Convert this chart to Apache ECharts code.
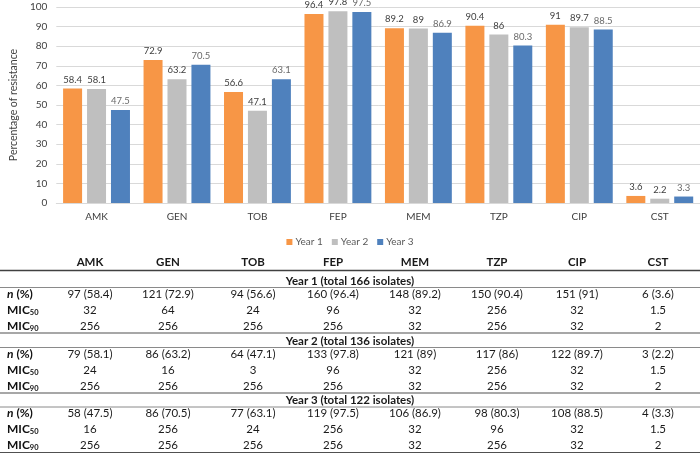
<!DOCTYPE html>
<html>
<head>
<meta charset="utf-8">
<script src="https://cdn.jsdelivr.net/npm/echarts@6/dist/echarts.min.js"></script>
<style>html,body{margin:0;padding:0;background:#fff}#c{width:700px;height:454px}</style>
</head>
<body>
<div id="c"></div>
<script>
// ---- data ----
var categories = ['AMK','GEN','TOB','FEP','MEM','TZP','CIP','CST'];
var seriesNames = ['Year 1','Year 2','Year 3'];
var year1 = [58.4, 72.9, 56.6, 96.4, 89.2, 90.4, 91, 3.6];
var year2 = [58.1, 63.2, 47.1, 97.8, 89, 86, 89.7, 2.2];
var year3 = [47.5, 70.5, 63.1, 97.5, 86.9, 80.3, 88.5, 3.3];
var yTicks = [0,10,20,30,40,50,60,70,80,90,100];

var yearTitles = ['Year 1 (total 166 isolates)','Year 2 (total 136 isolates)','Year 3 (total 122 isolates)'];
var nPct1 = ['97 (58.4)','121 (72.9)','94 (56.6)','160 (96.4)','148 (89.2)','150 (90.4)','151 (91)','6 (3.6)'];
var mic50_1 = ['32','64','24','96','32','256','32','1.5'];
var mic90_1 = ['256','256','256','256','32','256','32','2'];
var nPct2 = ['79 (58.1)','86 (63.2)','64 (47.1)','133 (97.8)','121 (89)','117 (86)','122 (89.7)','3 (2.2)'];
var mic50_2 = ['24','16','3','96','32','256','32','1.5'];
var mic90_2 = ['256','256','256','256','32','256','32','2'];
var nPct3 = ['58 (47.5)','86 (70.5)','77 (63.1)','119 (97.5)','106 (86.9)','98 (80.3)','108 (88.5)','4 (3.3)'];
var mic50_3 = ['16','256','24','256','32','96','32','1.5'];
var mic90_3 = ['256','256','256','256','32','256','32','2'];

// ---- layout / style ----
var FONT = 'Lato, "Noto Sans", sans-serif';
var colors = ['#F79646','#BFBFBF','#4F81BD'];
var labelColors = ['#404040','#404040','#6A6A6A'];
var colX = [90,168,253,333,415,497,577,658];
var TFS = 11.5;

var graphics = [];
function txt(x, y, s, align, bold, rich) {
  var st = {text: s, x: x, y: y, textAlign: align || 'center', textVerticalAlign: 'middle',
    fontFamily: FONT, fontSize: TFS, fontWeight: bold ? 'bold' : 'normal', fill: '#1a1a1a'};
  if (rich) st.rich = rich;
  graphics.push({type: 'text', style: st, z: 10});
}
function hline(y, color, w) {
  graphics.push({type: 'line', shape: {x1: 0, y1: y, x2: 700, y2: y}, style: {stroke: color, lineWidth: w}, z: 10});
}
var richLbl = {
  b: {fontFamily: FONT, fontSize: 12, fontWeight: 'bold', fill: '#111'},
  i: {fontFamily: FONT, fontSize: 12, fontWeight: 'bold', fontStyle: 'italic', fill: '#111'},
  s: {fontFamily: FONT, fontSize: 7.5, fontWeight: 'bold', fill: '#111', verticalAlign: 'bottom', padding: [5,0,0,0]}
};
// header
categories.forEach(function(c, i){ txt(colX[i], 262.5, c, 'center', true); });
hline(270.5, '#404040', 1.3);
var blocks = [[nPct1, mic50_1, mic90_1],[nPct2, mic50_2, mic90_2],[nPct3, mic50_3, mic90_3]];
var blockTop = [281, 341, 400.5];
blocks.forEach(function(b, k){
  var y0 = blockTop[k];
  txt(350, y0, yearTitles[k], 'center', true);
  hline(y0 + 6.5, '#8a8a8a', 1);
  var rowsY = [y0 + 13, y0 + 29, y0 + 45];
  txt(7, rowsY[0], '{i|n}{b| (%)}', 'left', true, richLbl);
  txt(7, rowsY[1], '{b|MIC}{s|50}', 'left', true, richLbl);
  txt(7, rowsY[2], '{b|MIC}{s|90}', 'left', true, richLbl);
  b.forEach(function(row, r){
    row.forEach(function(v, i){ txt(colX[i], rowsY[r], v, 'center', false); });
  });
  hline(y0 + 52, '#505050', 1.2);
});

var dataSets = [year1, year2, year3];
var chart = echarts.init(document.getElementById('c'), null, {renderer: 'canvas'});
chart.setOption({
  animation: false,
  textStyle: {fontFamily: FONT},
  grid: {left: 50, right: 0, top: 7, bottom: 251, containLabel: false},
  legend: {
    data: seriesNames, top: 232, left: 'center', icon: 'rect', itemWidth: 6, itemHeight: 6, itemGap: 9,
    textStyle: {fontSize: 10, color: '#595959', fontFamily: FONT, padding: [0,0,0,-2]}
  },
  xAxis: {
    type: 'category', data: categories,
    axisLine: {lineStyle: {color: '#D9D9D9'}}, axisTick: {show: false},
    axisLabel: {fontSize: 10, color: '#404040', margin: 9, fontFamily: FONT}
  },
  yAxis: {
    type: 'value', min: 0, max: 100, interval: 10,
    name: 'Percentage of resistance', nameLocation: 'middle', nameGap: 31,
    nameTextStyle: {fontSize: 10.5, color: '#404040', fontFamily: FONT},
    axisLine: {show: false}, axisTick: {show: false},
    axisLabel: {fontSize: 10, color: '#404040', margin: 9, fontFamily: FONT,
      formatter: function(v){ return yTicks.indexOf(v) >= 0 ? String(v) : ''; }},
    splitLine: {lineStyle: {color: '#D9D9D9'}}
  },
  series: dataSets.map(function(d, k){
    return {
      name: seriesNames[k], type: 'bar', data: d, barWidth: 19, barGap: '26%',
      itemStyle: {color: colors[k]},
      label: {show: true, position: 'top', distance: 4, fontSize: 9.5, color: labelColors[k], fontFamily: FONT}
    };
  }),
  graphic: graphics
});
</script>
</body>
</html>
